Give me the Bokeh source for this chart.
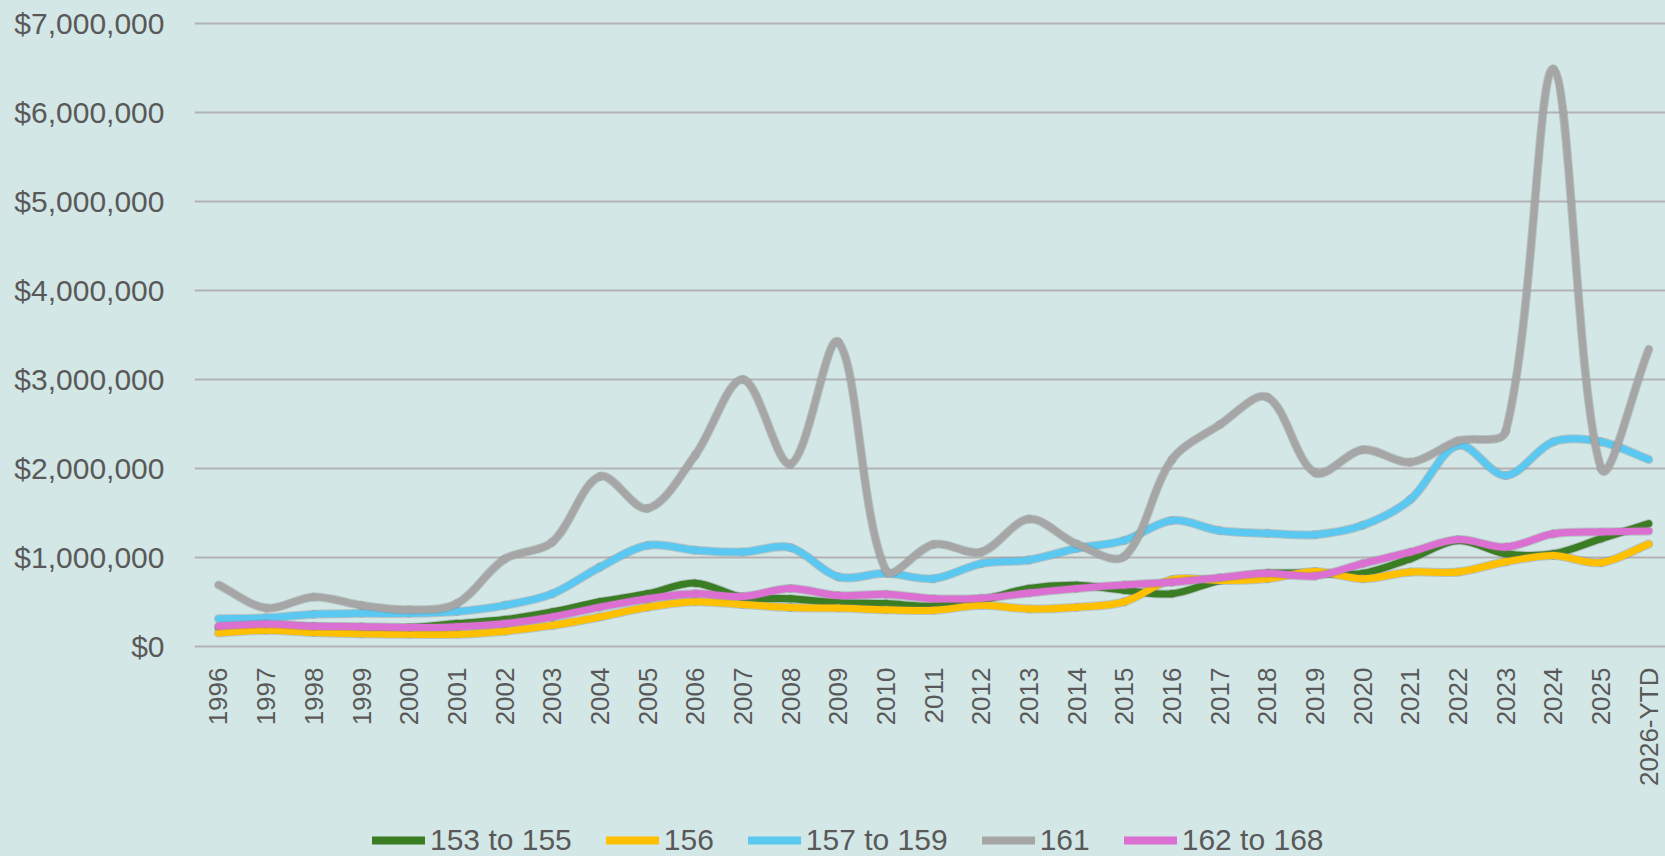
import numpy as np
from math import pi
from bokeh.plotting import figure
from bokeh.layouts import column
from bokeh.models import (Range1d, FixedTicker, NumeralTickFormatter, Legend,
                          LegendItem, ColumnDataSource)
from bokeh.embed import file_html
from bokeh.resources import INLINE

# ---------------- data ----------------
years = ["1996", "1997", "1998", "1999", "2000", "2001", "2002", "2003", "2004",
         "2005", "2006", "2007", "2008", "2009", "2010", "2011", "2012", "2013",
         "2014", "2015", "2016", "2017", "2018", "2019", "2020", "2021", "2022",
         "2023", "2024", "2025", "2026-YTD"]

s153_155 = [210000, 240000, 220000, 210000, 210000, 255000, 300000, 385000, 500000,
            590000, 710000, 550000, 535000, 490000, 480000, 450000, 520000, 650000,
            685000, 630000, 590000, 740000, 820000, 820000, 820000, 985000, 1190000,
            1040000, 1040000, 1210000, 1380000]
s156 = [150000, 180000, 155000, 140000, 135000, 135000, 170000, 235000, 330000,
        440000, 500000, 470000, 435000, 430000, 410000, 405000, 460000, 420000,
        440000, 500000, 750000, 740000, 760000, 840000, 760000, 835000, 835000,
        950000, 1020000, 940000, 1150000]
s157_159 = [310000, 320000, 360000, 370000, 370000, 390000, 460000, 590000, 890000,
            1135000, 1080000, 1060000, 1110000, 780000, 820000, 760000, 930000, 970000,
            1100000, 1190000, 1415000, 1300000, 1270000, 1255000, 1360000, 1650000,
            2260000, 1920000, 2300000, 2300000, 2100000]
s161 = [690000, 430000, 555000, 460000, 410000, 480000, 980000, 1170000, 1910000,
        1550000, 2150000, 3000000, 2050000, 3420000, 850000, 1146000, 1060000, 1430000,
        1150000, 1010000, 2100000, 2490000, 2800000, 1950000, 2210000, 2070000, 2310000,
        2420000, 6490000, 2000000, 3340000]
s162_168 = [225000, 250000, 225000, 220000, 210000, 220000, 255000, 330000, 440000,
            535000, 590000, 560000, 650000, 570000, 585000, 535000, 540000, 600000,
            650000, 690000, 720000, 770000, 820000, 790000, 930000, 1060000, 1200000,
            1115000, 1265000, 1285000, 1295000]

series_names = ["153 to 155", "156", "157 to 159", "161", "162 to 168"]
series_values = [s153_155, s156, s157_159, s161, s162_168]
colors = ["#3B7D23", "#FFC000", "#5BC8F2", "#A6A6A6", "#DB6FD2"]
y_ticks = [0, 1000000, 2000000, 3000000, 4000000, 5000000, 6000000, 7000000]

BG = "#D3E7E7"
TXT = "#595959"
FONT = "Liberation Sans"

W = 1665
H_MAIN, H_LEG = 796, 60
LEFT, TOP, FRAME_H = 194, 21, 627
X0, X1 = -0.503, 30.35
Y0, Y1 = -25000, 7025000
PX_X = (W - LEFT) / (X1 - X0)          # screen px per category step
PX_Y = FRAME_H / (Y1 - Y0)             # screen px per dollar


def smooth_source(vals):
    """Excel-like smoothed line: bezier segments through the data points,
    tangents scaled by neighbouring segment lengths (in screen space)."""
    y = np.asarray(vals, dtype=float)
    n = len(y)
    x = np.arange(n, dtype=float)
    sx, sy = x * PX_X, y * PX_Y
    d = np.hypot(np.diff(sx), np.diff(sy))
    out_x = np.zeros(n); out_y = np.zeros(n)
    in_x = np.zeros(n); in_y = np.zeros(n)
    for i in range(n):
        ip, inx = max(i - 1, 0), min(i + 1, n - 1)
        tx, ty = x[inx] - x[ip], y[inx] - y[ip]
        dp = d[i - 1] if i > 0 else 0.0
        dn = d[i] if i < n - 1 else 0.0
        tot = dp + dn if dp + dn > 0 else 1.0
        if i == 0 or i == n - 1:
            fo = fi = 1.0 / 3.0
        else:
            fo = (1.0 / 3.0) * dn / tot
            fi = (1.0 / 3.0) * dp / tot
        out_x[i], out_y[i] = x[i] + tx * fo, y[i] + ty * fo
        in_x[i], in_y[i] = x[i] - tx * fi, y[i] - ty * fi
    return ColumnDataSource(dict(x0=x[:-1], y0=y[:-1], x1=x[1:], y1=y[1:],
                                 cx0=out_x[:-1], cy0=out_y[:-1],
                                 cx1=in_x[1:], cy1=in_y[1:]))


p = figure(width=W, height=H_MAIN, output_backend="svg", toolbar_location=None,
           x_range=Range1d(X0, X1), y_range=Range1d(Y0, Y1),
           min_border_left=LEFT, min_border_right=0, min_border_top=TOP,
           min_border_bottom=H_MAIN - TOP - FRAME_H)
p.background_fill_color = BG
p.border_fill_color = BG
p.outline_line_color = None

bez = dict(x0="x0", y0="y0", x1="x1", y1="y1", cx0="cx0", cy0="cy0",
           cx1="cx1", cy1="cy1", line_cap="round", line_join="round")
for vals, col in zip(series_values, colors):
    src = smooth_source(vals)
    # soft outline (Excel line shadow), then the coloured line
    p.bezier(source=src, line_color="#808080", line_alpha=0.35, line_width=9, **bez)
    p.bezier(source=src, line_color=col, line_width=7, **bez)

# y axis
p.yaxis.ticker = FixedTicker(ticks=y_ticks)
p.yaxis.formatter = NumeralTickFormatter(format="$0,0")
p.yaxis.axis_line_color = None
p.yaxis.major_tick_line_color = None
p.yaxis.minor_tick_line_color = None
p.yaxis.major_tick_out = 0
p.yaxis.major_tick_in = 0
p.yaxis.major_label_standoff = 30
p.yaxis.major_label_text_font = FONT
p.yaxis.major_label_text_font_size = "30px"
p.yaxis.major_label_text_color = TXT

# x axis
p.xaxis.ticker = FixedTicker(ticks=list(range(len(years))))
p.xaxis.major_label_overrides = {i: lab for i, lab in enumerate(years)}
p.xaxis.major_label_orientation = pi / 2
p.xaxis.axis_line_color = None
p.xaxis.major_tick_line_color = None
p.xaxis.minor_tick_line_color = None
p.xaxis.major_tick_out = 0
p.xaxis.major_tick_in = 0
p.xaxis.major_label_standoff = 19
p.xaxis.major_label_text_font = FONT
p.xaxis.major_label_text_font_size = "26px"
p.xaxis.major_label_text_color = TXT

p.xgrid.grid_line_color = None
p.ygrid.grid_line_color = "#B3B3B3"
p.ygrid.grid_line_width = 2

# ---- legend strip (separate figure so the legend is not clipped) ----
q = figure(width=W, height=H_LEG, output_backend="svg", toolbar_location=None,
           x_range=Range1d(0, 1), y_range=Range1d(0, 1),
           min_border_left=0, min_border_right=0,
           min_border_top=0, min_border_bottom=0)
q.background_fill_color = BG
q.border_fill_color = BG
q.outline_line_color = None
q.axis.visible = False
q.grid.visible = False

items = []
for nm, col in zip(series_names, colors):
    r = q.line(x=[-5, -4], y=[-5, -5], line_color=col, line_width=8, line_cap="round")
    items.append(LegendItem(label=nm, renderers=[r]))

legend = Legend(
    items=items, orientation="horizontal", location=(372 - LEFT, -1),
    glyph_width=53, glyph_height=20, label_standoff=5, spacing=34,
    padding=0, margin=0, label_text_font=FONT, label_text_font_size="30px",
    label_text_color=TXT, background_fill_alpha=0, border_line_color=None)
q.add_layout(legend, "center")

layout = column(p, q, spacing=0)

PAGE_TEMPLATE = ("{% block postamble %}<style>html, body { background-color: "
                 + BG + "; }</style>{% endblock %}")
open("out.html", "w").write(file_html(layout, INLINE, template=PAGE_TEMPLATE))
